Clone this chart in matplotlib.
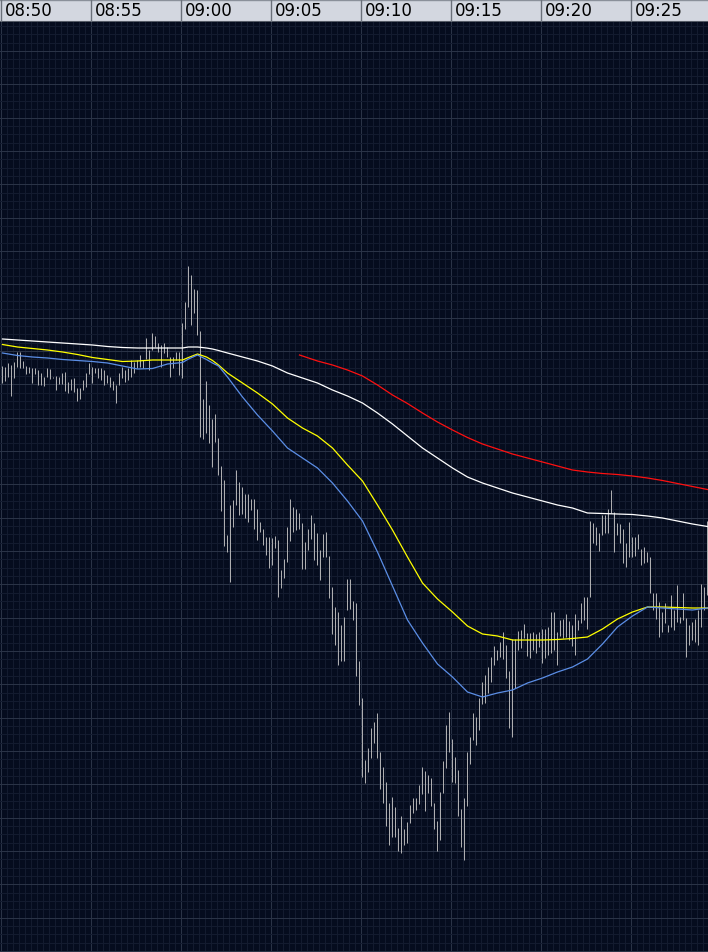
import numpy as np
import matplotlib
matplotlib.use("Agg")
import matplotlib.pyplot as plt

# 10-second bars starting 08:50:00, price in points (arbitrary level)
bar_high = [585, 584, 588, 586, 589, 599, 599, 590, 585, 584, 583, 583, 581, 578, 574, 583, 582, 574, 575, 574,
            578, 579, 569, 572, 573, 563, 563, 571, 578, 588, 584, 583, 583, 583, 581, 576, 574, 570, 566, 578,
            584, 581, 583, 591, 589, 591, 596, 591, 613, 601, 618, 615, 608, 606, 608, 604, 594, 594, 599, 599,
            628, 649, 685, 676, 662, 661, 620, 552, 570, 546, 532, 537, 513, 485, 471, 416, 446, 451, 481, 469,
            464, 457, 457, 452, 452, 442, 429, 422, 414, 414, 413, 415, 411, 381, 392, 424, 452, 444, 442, 438,
            428, 409, 422, 436, 428, 418, 401, 417, 419, 395, 364, 344, 339, 326, 334, 372, 372, 350, 348, 290,
            253, 191, 203, 223, 229, 238, 199, 184, 169, 148, 154, 144, 123, 135, 122, 129, 146, 153, 153, 166,
            184, 180, 176, 173, 148, 130, 159, 190, 226, 239, 212, 194, 181, 142, 153, 199, 214, 238, 234, 253,
            269, 276, 284, 294, 305, 301, 309, 319, 306, 280, 312, 312, 320, 321, 327, 318, 318, 319, 317, 319,
            322, 322, 324, 339, 339, 319, 331, 332, 337, 330, 326, 337, 331, 348, 354, 354, 430, 428, 424, 418,
            436, 436, 442, 461, 439, 428, 427, 422, 408, 429, 414, 414, 417, 402, 404, 399, 394, 358, 358, 349,
            339, 348, 326, 356, 341, 366, 334, 358, 333, 326, 329, 332, 341, 367, 364, 430]
bar_low = [568, 570, 574, 555, 573, 584, 583, 583, 577, 578, 568, 577, 566, 566, 565, 574, 572, 573, 561, 567,
           567, 560, 558, 561, 559, 550, 552, 561, 564, 577, 568, 578, 573, 571, 566, 568, 564, 561, 548, 566,
           573, 569, 571, 574, 578, 583, 584, 583, 592, 581, 601, 604, 599, 584, 598, 594, 574, 583, 591, 576,
           573, 622, 644, 626, 638, 616, 514, 512, 518, 508, 484, 509, 476, 440, 405, 399, 369, 424, 446, 436,
           437, 433, 429, 441, 422, 411, 419, 406, 396, 383, 386, 403, 354, 363, 373, 389, 410, 419, 421, 422,
           382, 382, 401, 412, 391, 386, 371, 394, 394, 353, 317, 306, 286, 290, 290, 341, 342, 331, 275, 246,
           174, 168, 179, 193, 208, 193, 162, 148, 125, 106, 114, 114, 100, 98, 106, 108, 128, 138, 141, 147,
           157, 140, 158, 145, 122, 100, 111, 158, 183, 199, 169, 168, 135, 104, 91, 145, 187, 211, 206, 221,
           247, 248, 258, 269, 286, 291, 294, 292, 273, 223, 214, 263, 301, 303, 313, 295, 293, 301, 298, 304,
           288, 293, 296, 298, 301, 286, 315, 313, 314, 311, 305, 296, 321, 328, 331, 322, 354, 408, 406, 400,
           416, 418, 418, 438, 399, 416, 408, 388, 384, 394, 394, 395, 402, 386, 388, 389, 358, 341, 332, 314,
           319, 328, 319, 324, 321, 329, 328, 331, 294, 306, 311, 309, 306, 324, 341, 356]

# moving averages, sampled at bar numbers
ma_bars = [0, 5, 10, 15, 20, 25, 30, 35, 40, 45, 50, 55, 60, 62, 65, 68, 70, 72, 75, 80, 85, 90, 95, 100,
           105, 110, 115, 120, 125, 130, 135, 140, 145, 150, 155, 160, 165, 170, 175, 180, 185, 190, 195,
           200, 205, 210, 215, 220, 225, 230, 235]
ma_blue = [598, 595.5, 594, 593, 591.5, 590.5, 589.5, 588, 585, 582, 582.5, 587, 588.5, 592, 596, 591.5, 588,
           585, 574, 554, 536, 520, 503, 493, 483, 468, 450, 430, 399, 365, 331, 308, 287, 274, 259, 254, 258,
           261, 268, 273, 279, 284, 292, 307, 324, 335, 344, 343, 342, 341, 343]
ma_yellow = [606.5, 604, 602.5, 601, 599, 596.5, 593.5, 591.5, 589.5, 590, 591, 591, 591, 593.5, 597, 594,
             590.5, 586, 578, 568, 558, 547, 533, 523, 515, 503, 486, 470, 446, 421, 394, 368, 352, 339, 325,
             317, 315, 311, 311, 311, 311.5, 312.5, 314, 322, 332, 339, 344, 344, 343.5, 343, 343]
ma_white = [612, 611, 610, 609, 608, 607, 606, 604.5, 603.5, 603, 603, 603, 603, 604, 604, 603, 602, 600.5,
            598, 594, 590, 585, 578, 573, 568, 561, 555, 548, 538, 527, 515, 503, 493, 483, 474, 468, 463, 458,
            454, 450, 446, 443, 438, 437.5, 437, 436.5, 435, 433, 430, 427, 424.5]
red_bars = [99, 105, 110, 115, 120, 125, 130, 135, 140, 145, 150, 155, 160, 165, 170, 175, 180, 185, 190,
            195, 200, 205, 210, 215, 220, 225, 230, 235]
ma_red = [596, 590, 586, 581, 575, 566, 556, 547.5, 538, 529, 521, 513.5, 507, 502, 497, 493, 489, 485, 481,
          479, 477.5, 476.5, 475, 473, 470.5, 467.5, 464.5, 461.5]

time_labels = ["08:50", "08:55", "09:00", "09:05", "09:10", "09:15", "09:20", "09:25"]

BAR_SEC = 10
t_bar = np.arange(len(bar_high)) * BAR_SEC + BAR_SEC / 2
x0, x1 = -10 / 3, 2356.7
y0, y1 = -1, 929

BG = "#050c1e"
HEAD = "#d3d7e0"

fig = plt.figure(figsize=(7.08, 9.52), dpi=100, facecolor=BG)
hdr_h = 22 / 952
ax = fig.add_axes([0, 0, 1, 1 - hdr_h])
hx = fig.add_axes([0, 1 - hdr_h, 1, hdr_h])

# --- main chart ---
ax.set_facecolor(BG)
ax.set_xlim(x0, x1)
ax.set_ylim(y0, y1)
ax.set_xticks(np.arange(0, x1, 300))
ax.set_xticks(np.arange(0, x1, 20), minor=True)
ax.set_yticks(np.arange(0, y1, 100 / 3))
ax.set_yticks(np.arange(0, y1, 100 / 12), minor=True)
ax.grid(which="major", color="#2a3346", lw=0.75)
ax.grid(which="minor", color="#131b2f", lw=0.75)
ax.tick_params(which="both", length=0, labelbottom=False, labelleft=False)
for s in ax.spines.values():
    s.set_visible(False)

ax.vlines(t_bar, bar_low, bar_high, color="#aeaeb0", lw=0.72, zorder=3)

t_ma = np.array(ma_bars) * BAR_SEC + BAR_SEC / 2
t_red = np.array(red_bars) * BAR_SEC + BAR_SEC / 2
ax.plot(t_ma, ma_white, color="#ffffff", lw=0.9, zorder=4)
ax.plot(t_red, ma_red, color="#ff1010", lw=0.9, zorder=4)
ax.plot(t_ma, ma_yellow, color="#ffff00", lw=0.9, zorder=5)
ax.plot(t_ma, ma_blue, color="#5b8ee6", lw=0.9, zorder=6)

# --- time header ---
hx.set_facecolor(HEAD)
hx.set_xlim(x0, x1)
hx.set_ylim(0, 1)
hx.set_xticks([])
hx.set_yticks([])
for s in hx.spines.values():
    s.set_visible(False)
hx.axhline(0.02, color="#555b66", lw=1.5)
hx.axhline(0.98, color="#8a909a", lw=1.0)
for k, lab in enumerate(time_labels):
    tx = k * 300
    hx.axvline(tx, color="#6a707a", lw=1.0)
    hx.text(tx + 12, 0.48, lab, fontsize=12, color="black", ha="left", va="center",
            family="DejaVu Sans")

fig.savefig("out.png", dpi=100, facecolor=BG)
